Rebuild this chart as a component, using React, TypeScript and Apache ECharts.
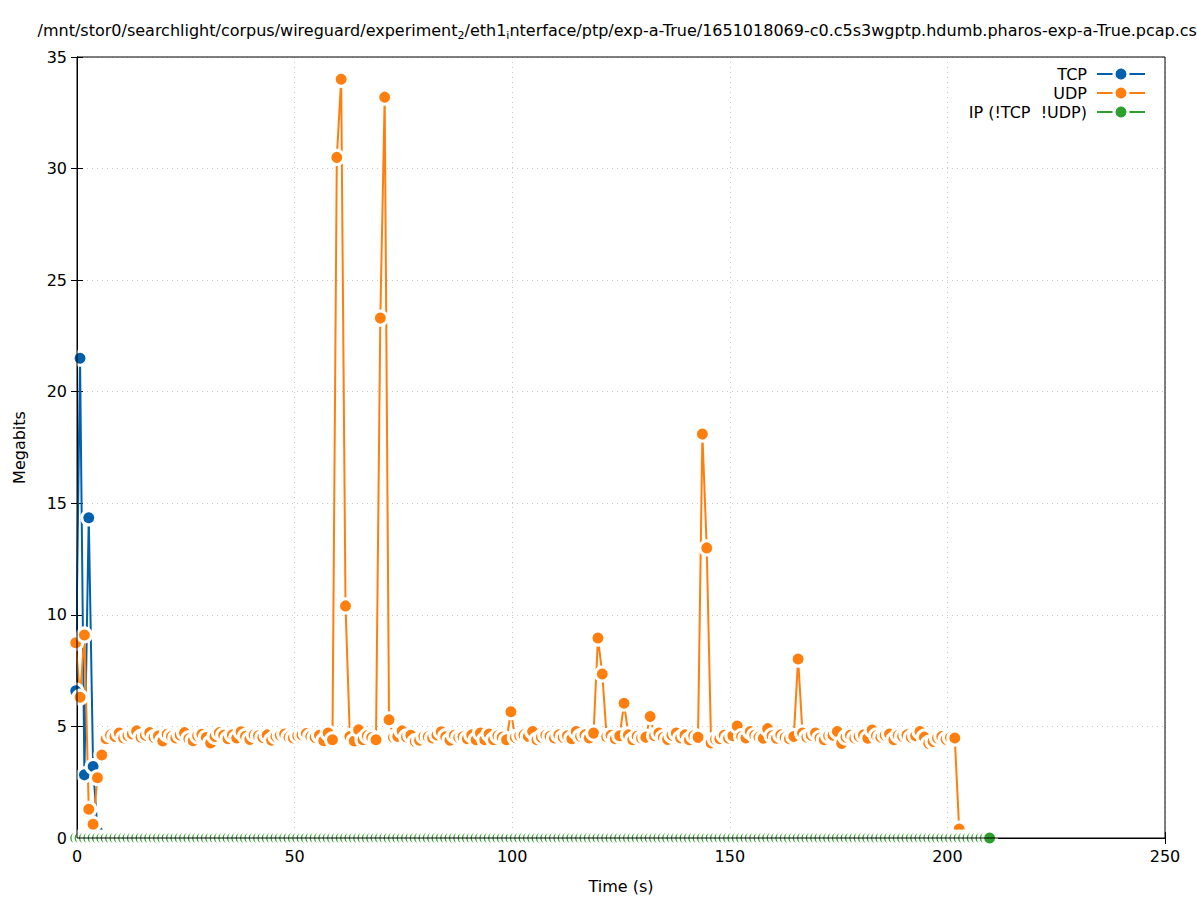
import React, { useEffect, useRef } from "react";
import * as echarts from "echarts";

// ---- data -------------------------------------------------------------
const T0 = -0.3; // time of first sample (s)
const STEP = 1.0; // sampling interval (s)

const TCP_VALUES = [6.6, 21.5, 2.83, 14.35, 3.2, 0.3];

const UDP_VALUES = [
  8.75, 6.31, 9.1, 1.29, 0.61, 2.7, 3.72, 4.45, 4.62, 4.55,
  4.7, 4.48, 4.58, 4.66, 4.8, 4.52, 4.6, 4.72, 4.5, 4.57,
  4.35, 4.65, 4.55, 4.48, 4.62, 4.72, 4.45, 4.36, 4.58, 4.65,
  4.5, 4.26, 4.55, 4.72, 4.6, 4.45, 4.62, 4.48, 4.76, 4.56,
  4.42, 4.63, 4.58, 4.5, 4.62, 4.38, 4.55, 4.6, 4.66, 4.52,
  4.48, 4.58, 4.62, 4.68, 4.55, 4.5, 4.6, 4.36, 4.7, 4.4,
  30.5, 34.0, 10.4, 4.55, 4.35, 4.85, 4.4, 4.58, 4.5, 4.4,
  23.3, 33.2, 5.3, 4.5, 4.55, 4.8, 4.53, 4.6, 4.32, 4.38,
  4.55, 4.54, 4.48, 4.62, 4.76, 4.54, 4.38, 4.6, 4.5, 4.54,
  4.45, 4.62, 4.4, 4.7, 4.4, 4.66, 4.4, 4.58, 4.52, 4.4,
  5.66, 4.5, 4.58, 4.62, 4.55, 4.77, 4.4, 4.52, 4.6, 4.56,
  4.48, 4.62, 4.5, 4.58, 4.45, 4.77, 4.55, 4.62, 4.48, 4.7,
  8.96, 7.35, 4.54, 4.6, 4.45, 4.58, 6.04, 4.62, 4.4, 4.56,
  4.47, 4.52, 5.44, 4.58, 4.7, 4.5, 4.42, 4.6, 4.7, 4.48,
  4.62, 4.4, 4.58, 4.51, 18.1, 13.0, 4.26, 4.42, 4.45, 4.6,
  4.47, 4.58, 5.02, 4.55, 4.48, 4.77, 4.6, 4.52, 4.47, 4.9,
  4.58, 4.47, 4.62, 4.5, 4.45, 4.55, 8.02, 4.7, 4.52, 4.6,
  4.7, 4.48, 4.4, 4.58, 4.6, 4.77, 4.24, 4.52, 4.6, 4.48,
  4.55, 4.62, 4.47, 4.84, 4.58, 4.52, 4.6, 4.66, 4.4, 4.6,
  4.55, 4.62, 4.5, 4.58, 4.77, 4.52, 4.24, 4.32, 4.48, 4.55,
  4.42, 4.5, 4.48, 0.4,
];

// non-TCP/non-UDP IP traffic: one sample per second, all 0 Mb
const IP_VALUES = [
  0, 0, 0, 0, 0, 0, 0, 0, 0, 0,
  0, 0, 0, 0, 0, 0, 0, 0, 0, 0,
  0, 0, 0, 0, 0, 0, 0, 0, 0, 0,
  0, 0, 0, 0, 0, 0, 0, 0, 0, 0,
  0, 0, 0, 0, 0, 0, 0, 0, 0, 0,
  0, 0, 0, 0, 0, 0, 0, 0, 0, 0,
  0, 0, 0, 0, 0, 0, 0, 0, 0, 0,
  0, 0, 0, 0, 0, 0, 0, 0, 0, 0,
  0, 0, 0, 0, 0, 0, 0, 0, 0, 0,
  0, 0, 0, 0, 0, 0, 0, 0, 0, 0,
  0, 0, 0, 0, 0, 0, 0, 0, 0, 0,
  0, 0, 0, 0, 0, 0, 0, 0, 0, 0,
  0, 0, 0, 0, 0, 0, 0, 0, 0, 0,
  0, 0, 0, 0, 0, 0, 0, 0, 0, 0,
  0, 0, 0, 0, 0, 0, 0, 0, 0, 0,
  0, 0, 0, 0, 0, 0, 0, 0, 0, 0,
  0, 0, 0, 0, 0, 0, 0, 0, 0, 0,
  0, 0, 0, 0, 0, 0, 0, 0, 0, 0,
  0, 0, 0, 0, 0, 0, 0, 0, 0, 0,
  0, 0, 0, 0, 0, 0, 0, 0, 0, 0,
  0, 0, 0, 0, 0, 0, 0, 0, 0, 0,
  0,
];

const X_MIN = 0, X_MAX = 250, X_INTERVAL = 50;
const Y_MIN = 0, Y_MAX = 35, Y_INTERVAL = 5;

const SERIES_NAMES = ["TCP", "UDP", "IP (!TCP  !UDP)"];
const COLORS = ["#0060ad", "#ff7f0e", "#2ca02c"];
const TITLE_PARTS = [
  ["a", "/mnt/stor0/searchlight/corpus/wireguard/experiment"],
  ["s", "2"],
  ["a", "/eth1"],
  ["s", "i"],
  ["a", "nterface/ptp/exp-a-True/1651018069-c0.c5s3wgptp.hdumb.pharos-exp-a-True.pcap.csv"],
];

// ---- layout -----------------------------------------------------------
const FONT = "DejaVu Sans";
const FS = 16;
const GRID = { left: 77, right: 32, top: 57, bottom: 62 };
const W = 1197, H = 900;

export default function App() {
  const ref = useRef<HTMLDivElement>(null);

  useEffect(() => {
    const chart = echarts.init(ref.current!, null, { renderer: "svg" });

    const tcpData = TCP_VALUES.map((v, i) => [T0 + i * STEP, v]);
    const udpData = UDP_VALUES.map((v, i) => [T0 + i * STEP, v]);
    const ipData = IP_VALUES.map((v, i) => [T0 + i * STEP, v]);

    const mkSeries = (name: string, data: number[][], color: string) => ({
      name,
      type: "line",
      data,
      clip: false,
      showAllSymbol: true,
      symbol: "circle",
      symbolSize: 14,
      lineStyle: { color, width: 2 },
      itemStyle: { color, borderColor: "#ffffff", borderWidth: 3 },
      emphasis: { disabled: true },
      silent: true,
    });

    const plotW = W - GRID.left - GRID.right;
    const plotH = H - GRID.top - GRID.bottom;

    const legendItems: any[] = [];
    SERIES_NAMES.forEach((name, i) => {
      const y = 74 + i * 19;
      legendItems.push(
        {
          type: "text",
          z: 100,
          style: {
            text: name,
            x: 1087,
            y,
            align: "right",
            verticalAlign: "middle",
            font: `${FS}px "${FONT}"`,
            fill: "#000",
          },
        },
        {
          type: "line",
          z: 100,
          shape: { x1: 1097, y1: y, x2: 1145, y2: y },
          style: { stroke: COLORS[i], lineWidth: 2 },
        },
        {
          type: "circle",
          z: 101,
          shape: { cx: 1121, cy: y, r: 7 },
          style: { fill: COLORS[i], stroke: "#fff", lineWidth: 3 },
        }
      );
    });

    const axisLabelStyle = { color: "#000", fontSize: FS, fontFamily: FONT };
    const titleText = TITLE_PARTS.map(([k, t]) => `{${k}|${t}}`).join("");

    const option: any = {
      animation: false,
      backgroundColor: "#fff",
      grid: { ...GRID },
      xAxis: [
        {
          type: "value",
          min: X_MIN,
          max: X_MAX,
          interval: X_INTERVAL,
          position: "bottom",
          axisLine: { show: true, lineStyle: { color: "#000", width: 1 } },
          axisTick: { show: true, inside: true, length: 6, lineStyle: { color: "#000" } },
          axisLabel: { ...axisLabelStyle, margin: 10 },
          splitLine: { show: true, lineStyle: { color: "#c8c8c8", width: 1, type: [1, 4] } },
        },
        {
          type: "value",
          min: X_MIN,
          max: X_MAX,
          interval: X_INTERVAL,
          position: "top",
          axisLine: { show: true, lineStyle: { color: "#000", width: 1 } },
          axisTick: { show: true, inside: true, length: 6, lineStyle: { color: "#000" } },
          axisLabel: { show: false },
          splitLine: { show: false },
        },
      ],
      yAxis: [
        {
          type: "value",
          min: Y_MIN,
          max: Y_MAX,
          interval: Y_INTERVAL,
          position: "left",
          axisLine: { show: true, lineStyle: { color: "#000", width: 1 } },
          axisTick: { show: true, inside: true, length: 6, lineStyle: { color: "#000" } },
          axisLabel: { ...axisLabelStyle, margin: 10 },
          splitLine: { show: true, lineStyle: { color: "#c8c8c8", width: 1, type: [1, 4] } },
        },
        {
          type: "value",
          min: Y_MIN,
          max: Y_MAX,
          interval: Y_INTERVAL,
          position: "right",
          axisLine: { show: true, lineStyle: { color: "#000", width: 1 } },
          axisTick: { show: true, inside: true, length: 6, lineStyle: { color: "#000" } },
          axisLabel: { show: false },
          splitLine: { show: false },
        },
      ],
      series: [
        mkSeries(SERIES_NAMES[0], tcpData, COLORS[0]),
        mkSeries(SERIES_NAMES[1], udpData, COLORS[1]),
        mkSeries(SERIES_NAMES[2], ipData, COLORS[2]),
      ],
      graphic: [
        // plot border drawn in front of the data
        {
          type: "rect",
          z: 50,
          silent: true,
          shape: { x: GRID.left, y: GRID.top, width: plotW, height: plotH },
          style: { fill: "none", stroke: "#000", lineWidth: 1 },
        },
        {
          type: "text",
          z: 100,
          style: {
            text: titleText,
            x: 622,
            y: 30,
            align: "center",
            verticalAlign: "middle",
            rich: {
              a: { fontSize: FS, fontFamily: FONT, fill: "#000", lineHeight: 22, verticalAlign: "middle" },
              s: { fontSize: 11, fontFamily: FONT, fill: "#000", lineHeight: 11, verticalAlign: "bottom" },
            },
          },
        },
        {
          type: "text",
          z: 100,
          style: {
            text: "Time (s)",
            x: GRID.left + plotW / 2,
            y: 886,
            align: "center",
            verticalAlign: "middle",
            font: `${FS}px "${FONT}"`,
            fill: "#000",
          },
        },
        {
          type: "text",
          z: 100,
          x: 19,
          y: GRID.top + plotH / 2,
          rotation: Math.PI / 2,
          style: {
            text: "Megabits",
            x: 0,
            y: 0,
            align: "center",
            verticalAlign: "middle",
            font: `${FS}px "${FONT}"`,
            fill: "#000",
          },
        },
        ...legendItems,
      ],
    };

    chart.setOption(option);
    return () => chart.dispose();
  }, []);

  return (
    <div
      ref={ref}
      style={{ position: "fixed", left: 0, top: 0, width: W, height: H, background: "#fff" }}
    />
  );
}
